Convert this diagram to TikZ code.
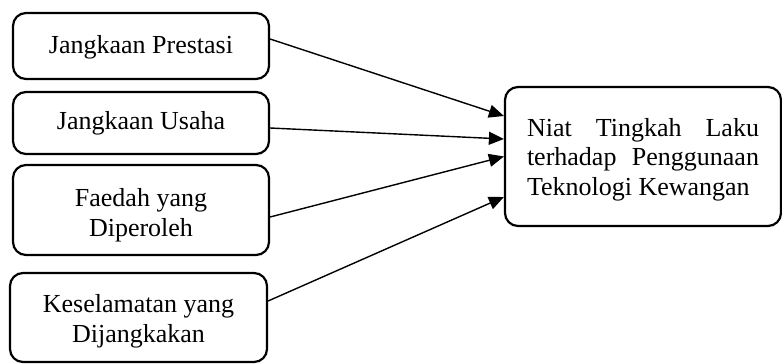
\documentclass[tikz,border=0pt]{standalone}
\usepackage{fontspec}
\setmainfont{Liberation Serif}
\usetikzlibrary{arrows.meta}
\begin{document}
\begin{tikzpicture}[x=1pt,y=-1pt,
  box/.style={draw=black,line width=2.2pt,rounded corners=13pt,inner sep=0pt},
  lbl/.style={inner sep=0pt,font=\fontsize{26}{29.5}\selectfont,align=center},
  conn/.style={line width=1.4pt,-{Triangle[length=15pt,width=13pt]}}]
\useasboundingbox (0,0) rectangle (782,364);
\node[box,minimum width=256pt,minimum height=66pt] (b1) at (141,46) {};
\node[box,minimum width=256pt,minimum height=62pt] (b2) at (141,123) {};
\node[box,minimum width=256pt,minimum height=90pt] (b3) at (141,210) {};
\node[box,minimum width=257pt,minimum height=89pt] (b4) at (138.5,317.5) {};
\node[box,minimum width=276pt,minimum height=139pt] (r) at (643,156.5) {};
\node[lbl] (t1) at ([yshift=-1pt]b1.center) {Jangkaan Prestasi};
\node[lbl] (t2) at (b2.center) {Jangkaan Usaha};
\node[lbl] (t3) at ([yshift=-5pt]b3.center) {Faedah yang\\Diperoleh};
\node[lbl] (t4) at ([yshift=-4pt]b4.center) {Keselamatan yang\\Dijangkakan};
\node[lbl,text width=232pt,align=justify] (tr) at ([yshift=-3pt]r.center)
  {\tolerance=10000\hyphenpenalty=10000 Niat Tingkah Laku terhadap Penggunaan Teknologi Kewangan};
\draw[conn] ([yshift=7pt]b1.east) -- ([yshift=40.5pt]r.west);
\draw[conn] ([yshift=-5pt]b2.east) -- ([yshift=17.5pt]r.west);
\draw[conn] ([yshift=-7pt]b3.east) -- (r.west);
\draw[conn] ([yshift=16.5pt]b4.east) -- ([yshift=-40.5pt]r.west);
\end{tikzpicture}
\end{document}
